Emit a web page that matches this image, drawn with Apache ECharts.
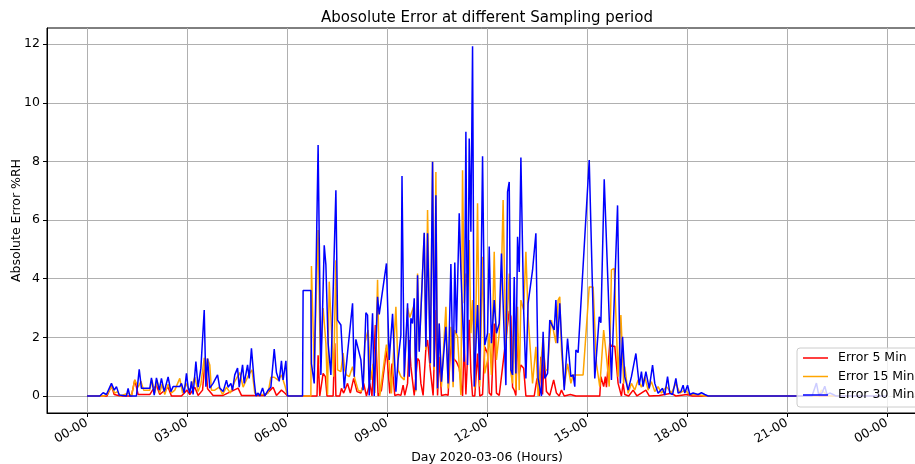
<!DOCTYPE html>
<html>
<head>
<meta charset="utf-8">
<script src="https://cdn.jsdelivr.net/npm/echarts@6/dist/echarts.min.js"></script>
<style>html,body{margin:0;padding:0;background:#fff;}#chart{width:915px;height:464px;}</style>
</head>
<body>
<div id="chart"></div>
<script>
// x tick values (hours) and labels
const xTickHours = [0, 3, 6, 9, 12, 15, 18, 21, 24];
const xTickLabels = ['00-00', '03-00', '06-00', '09-00', '12-00', '15-00', '18-00', '21-00', '00-00'];
const yTicks = [0, 2, 4, 6, 8, 10, 12];

// Error 5 Min (minutes since 00:00, value %RH)
const err5Minutes = [0,36,44,49,60,80,86,92,113,118,125,131,146,152,170,180,185,194,200,208,213,217,227,245,272,278,300,320,330,335,341,350,356,361,414,416,419,422,425,429,432,443,446,448,455,458,462,469,474,480,486,493,498,503,509,513,519,524,530,536,539,541,545,549,554,560,565,569,572,577,580,583,589,595,598,601,605,610,613,618,623,628,631,634,638,646,650,655,659,665,670,676,679,682,688,691,694,698,703,707,712,716,721,724,728,733,737,742,760,763,766,769,772,775,778,781,786,790,805,810,814,817,820,823,827,833,840,845,850,854,859,870,880,923,925,930,933,935,941,944,950,956,962,965,968,975,983,990,1006,1012,1030,1052,1060,1080,1090,1440];
const err5Values = [0,0,0.35,0.05,0,0,0.55,0.05,0.05,0.2,0.37,0.05,0.3,0,0,0.2,0.05,0.3,0.02,0.2,1.3,0.25,0.02,0.02,0.27,0.02,0.02,0.02,0.2,0.3,0.02,0.2,0.1,0,0,1.39,0,0,0.77,0.66,0,0,1.8,0,0,0.26,0.1,0.43,0.1,0.6,0.15,0.1,0.43,0,0.43,0,2.42,0,0.2,1.1,1.63,1.68,0.09,1.11,0.02,0.05,0.02,0.37,0.02,0.43,1.91,1.0,0.02,1.28,1.2,0.43,0.02,1.62,1.91,0.89,0.02,2.93,0.02,1.34,0.02,0.05,0.02,1.9,1.3,1.17,0.95,0,1.91,0.05,2.6,0.8,0,0,1.45,0,0.05,1.68,1.45,0.1,0.02,2.47,0.1,0.02,2.9,2.7,0.3,0.2,0.02,2.14,0.77,1.06,0.95,0,0,0.6,0,1.34,0.05,1.34,0.15,0.02,0.55,0.1,0,0.2,0,0.05,0,0,0.66,0.32,0.66,0.3,1.8,1.7,1.7,0.43,0,0.43,0.05,0,0.2,0,0.2,0,0.02,0.09,0,0.05,0,0];

// Error 15 Min
const err15Minutes = [0,30,36,44,50,55,60,75,80,86,92,97,102,113,117,122,126,131,135,140,146,152,158,167,172,178,184,188,194,200,205,211,214,217,221,224,230,238,244,251,258,266,275,281,291,297,302,310,320,326,331,337,344,350,356,361,403,404,409,416,420,425,430,433,436,440,444,448,451,457,461,464,467,472,478,482,488,493,497,500,506,511,515,518,523,527,533,539,544,548,556,560,565,571,577,581,584,589,592,595,598,607,610,613,618,622,625,628,631,634,638,646,650,655,659,662,667,673,676,679,682,685,688,691,694,698,703,707,712,716,721,724,728,733,737,742,746,749,754,757,760,763,766,769,772,775,778,781,786,790,794,802,808,812,821,824,829,833,836,844,848,851,854,859,865,871,875,880,893,904,911,917,923,930,935,940,944,949,956,961,966,968,974,980,986,992,998,1004,1010,1016,1022,1028,1034,1043,1052,1060,1067,1076,1085,1100,1112,1316,1322,1328,1334,1440];
const err15Values = [0,0,0.05,0.32,0.1,0.15,0,0.1,0,0.55,0.3,0.5,0.2,0.2,0.55,0.1,0.55,0.1,0.4,0.05,0.4,0.1,0.2,0.6,0.1,0.43,0.2,0.3,0.64,0.15,0.4,1.3,0.4,1.28,1.06,0.2,0.2,0.3,0.05,0.3,0.1,0.5,0.8,0.3,0.72,0.89,0.1,0.05,0.05,0.1,0.64,0.64,0.54,0.72,0.37,0,0,4.43,0.9,5.66,1.1,3.0,1.8,0.05,3.9,2.25,0.66,4.63,0.89,0.83,1.46,0.89,0.72,0.66,1.0,0.6,0.2,0.15,0.32,1.8,2.25,0.55,1.1,0.1,3.96,0,0.89,1.75,1.1,0.09,3.04,0.89,0.66,0.55,3.0,2.68,2.68,3.1,0.15,4.18,1.57,5.55,1.57,6.34,1.06,7.99,0.89,7.64,0.23,2.47,0.32,3.04,0.26,2.36,0.3,2.25,2.02,0.03,7.7,3.16,4.18,3.73,5.32,2.14,3.27,0.26,6.57,0.32,4.75,0.77,1.23,2.14,0.72,4.92,1.23,2.14,4.18,6.68,1.57,1.57,4.18,0.77,0.43,2.93,0.2,3.04,0.2,3.27,2.93,4.92,2.7,0.43,1.68,0,2.02,0.89,0.89,2.02,2.59,1.8,3.27,3.38,1.57,0.32,1.1,0.43,0.72,0.72,0.72,3.72,3.72,1.1,0.32,2.25,1.35,0.32,4.3,4.35,0.66,2.76,0.43,1.0,0.09,0.43,0.2,0.55,0.3,0.66,0.2,0.49,0.15,0.32,0.1,0.32,0.1,0.43,0.1,0.2,0.05,0.05,0,0,0.2,0.1,0,0];

// Error 30 Min
const err30Minutes = [0,23,29,35,44,49,53,58,71,74,77,89,94,98,113,116,121,125,130,134,139,146,151,155,167,170,175,179,182,185,188,191,196,200,205,211,214,217,221,227,230,235,239,245,251,254,259,262,266,271,274,280,283,289,292,296,301,304,308,311,316,320,326,331,337,341,346,350,353,358,361,388,389,403,404,409,416,421,427,430,434,439,448,451,457,463,469,472,478,481,484,493,497,502,505,508,514,517,523,526,539,544,550,556,560,565,567,571,577,580,583,586,589,592,595,598,607,610,613,618,622,625,628,631,634,638,646,650,655,659,662,665,670,673,676,679,682,685,688,691,694,697,700,703,707,712,716,721,724,728,733,737,742,746,754,757,760,763,766,769,772,775,778,781,786,790,794,802,808,812,818,821,824,829,833,836,841,844,847,851,854,859,865,871,875,878,880,884,904,914,917,922,925,931,944,955,960,964,968,974,980,988,994,998,1001,1006,1012,1018,1022,1028,1036,1040,1045,1049,1054,1060,1064,1069,1073,1076,1081,1085,1091,1100,1106,1112,1118,1305,1313,1317,1323,1328,1332,1337,1343,1348,1440];
const err30Values = [0,0,0.11,0.05,0.43,0.2,0.32,0.03,0,0.26,0,0,0.91,0.26,0.26,0.62,0.03,0.62,0.2,0.6,0.15,0.65,0.15,0.32,0.32,0.43,0.1,0.77,0.3,0.1,0.5,0.05,1.17,0.3,0.95,2.93,0.32,1.28,0.27,0.43,0.54,0.72,0.27,0.15,0.54,0.3,0.43,0.2,0.72,0.95,0.3,1.06,0.43,1.06,0.6,1.63,0.5,0,0.1,0,0.27,0,0.2,0.3,1.6,0.8,0.5,1.2,0.55,1.2,0,0,3.6,3.6,1.1,0.43,8.56,0.72,5.14,4.47,1.8,0.72,7.02,2.59,2.42,0.26,1.48,1.46,3.16,0.66,1.93,1.23,0.2,2.84,2.76,0.02,2.82,0,3.38,2.78,4.52,1.23,2.8,0.15,1.23,2.08,7.5,0.66,3.16,0.66,2.65,2.47,3.33,0.2,4.12,1.51,5.57,1.68,5.55,1.12,7.99,1.0,6.85,0.26,2.47,0.49,2.36,0.43,4.5,0.49,4.55,2.14,6.23,4.28,4.28,1.17,9.01,1.06,8.78,5.6,11.93,0.32,0.26,3.1,0.55,8.18,1.74,2.14,5.1,1.8,3.27,2.14,2.47,4.86,0.37,6.96,7.3,0.89,0.72,4.06,0.77,5.43,4.23,8.13,2.93,0.6,3.16,4.29,5.55,0.6,0,2.19,0.6,0.77,2.59,2.65,2.25,3.27,1.8,3.16,2.02,0.2,1.96,0.66,0.72,0.32,1.57,1.48,8.05,0.6,0.55,2.7,2.5,7.39,0.55,6.5,0.43,2.02,0.66,0.2,0.66,1.45,0.37,0.83,0.32,0.83,0.26,1.05,0.43,0.09,0.26,0.03,0.66,0.1,0.05,0.6,0.1,0.15,0.37,0.1,0.37,0.05,0.1,0.05,0.11,0.05,0,0,0.44,0.05,0.1,0.33,0.05,0.1,0.05,0,0];

function pairs(mins, vals) {
  return mins.map((m, i) => [m / 60, vals[i]]);
}

const FONT = 'DejaVu Sans';
const chart = echarts.init(document.getElementById('chart'), null, { renderer: 'canvas' });
chart.setOption({
  animation: false,
  backgroundColor: '#ffffff',
  textStyle: { fontFamily: FONT },
  graphic: [{
    type: 'text', x: 487, y: 18, z: 10,
    style: { text: 'Abosolute Error at different Sampling period', fill: '#000', font: '15px "DejaVu Sans"', textAlign: 'center', textVerticalAlign: 'middle' }
  }],
  grid: { left: 47, top: 28, right: -12, bottom: 51, show: true, borderColor: '#000', borderWidth: 1, backgroundColor: 'transparent', outerBoundsMode: 'none', containLabel: false },
  legend: {
    orient: 'vertical', left: 797, top: 348, z: 20,
    padding: [3, 6, 5, 6], itemGap: 4.5,
    backgroundColor: 'rgba(255,255,255,0.8)', borderColor: '#cccccc', borderWidth: 1, borderRadius: 3,
    icon: 'rect', itemWidth: 25, itemHeight: 1.5,
    textStyle: { fontFamily: FONT, fontSize: 12.5, color: '#000', lineHeight: 14, padding: [0, 0, 0, 5] },
    data: ['Error 5 Min', 'Error 15 Min', 'Error 30 Min']
  },
  xAxis: {
    type: 'value', min: -1.2, max: 25.2,
    name: 'Day 2020-03-06 (Hours)', nameLocation: 'middle', nameGap: 38, nameMoveOverlap: false,
    nameTextStyle: { fontFamily: FONT, fontSize: 12.5, color: '#000' },
    axisLine: { show: true, onZero: false, lineStyle: { color: '#000', width: 1 } },
    axisTick: { show: true, length: 4, lineStyle: { color: '#000' }, customValues: xTickHours },
    axisLabel: {
      customValues: xTickHours, rotate: 30, margin: 9, color: '#000', fontFamily: FONT, fontSize: 12.5,
      formatter: function (v) { const i = xTickHours.indexOf(v); return i >= 0 ? xTickLabels[i] : ''; }
    },
    splitLine: { show: true, lineStyle: { color: '#b0b0b0', width: 1 } }
  },
  yAxis: {
    type: 'value', min: -0.58, max: 12.55,
    name: 'Absolute Error %RH', nameLocation: 'middle', nameGap: 24, nameMoveOverlap: false,
    nameTextStyle: { fontFamily: FONT, fontSize: 12.5, color: '#000' },
    axisLine: { show: true, onZero: false, lineStyle: { color: '#000', width: 1 } },
    axisTick: { show: true, length: 4, lineStyle: { color: '#000' }, customValues: yTicks },
    axisLabel: { customValues: yTicks, margin: 7, color: '#000', fontFamily: FONT, fontSize: 12.5 },
    splitLine: { show: true, lineStyle: { color: '#b0b0b0', width: 1 } }
  },
  series: [
    { name: 'Error 5 Min', type: 'line', data: pairs(err5Minutes, err5Values), showSymbol: false, symbol: 'none', color: '#ff0000', lineStyle: { width: 1.5, color: '#ff0000' }, z: 2 },
    { name: 'Error 15 Min', type: 'line', data: pairs(err15Minutes, err15Values), showSymbol: false, symbol: 'none', color: '#ffa500', lineStyle: { width: 1.5, color: '#ffa500' }, z: 2 },
    { name: 'Error 30 Min', type: 'line', data: pairs(err30Minutes, err30Values), showSymbol: false, symbol: 'none', color: '#0000ff', lineStyle: { width: 1.5, color: '#0000ff' }, z: 2 }
  ]
});
</script>
</body>
</html>
